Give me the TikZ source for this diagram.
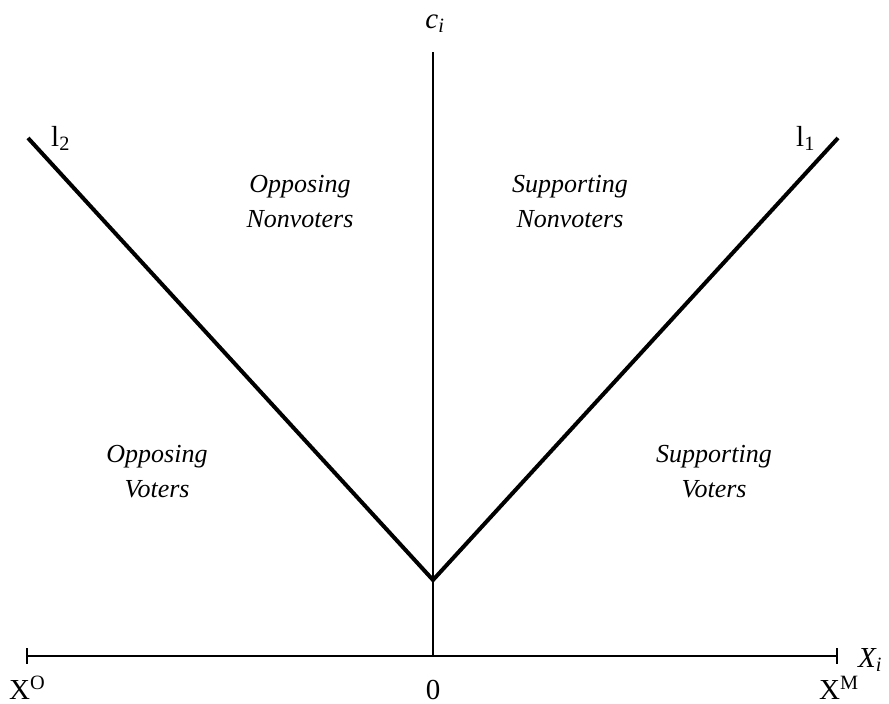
\documentclass[tikz,border=0pt]{standalone}
\usepackage{amsmath}
\usepackage{fontspec}
\setmainfont{Liberation Serif}
\usetikzlibrary{positioning}

\begin{document}
\begin{tikzpicture}[x=1pt, y=-1pt, axis/.style = {line width=1.2pt}, bound/.style = {line width=4pt}, region/.style = {font=\fontsize{26}{35}\selectfont\itshape, align=center, anchor=base, inner sep=0pt}, lbl/.style = {font=\fontsize{29}{32}\selectfont, anchor=base, inner sep=0pt}]
          \useasboundingbox (0,0) rectangle (889,704);
          \coordinate (x_o) at (27,656);
          \coordinate (x_m) at (837,656);
          \coordinate (o) at (433,656);
          \coordinate (top) at (433,52);
          \coordinate (v) at (433,580);
          \coordinate (l_2) at (28,138);
          \coordinate (l_1) at (838,138);

          \draw[axis] (x_o) -- (x_m);
          \draw[axis] ([yshift=8pt]x_o) -- ([yshift=-8pt]x_o);
          \draw[axis] ([yshift=8pt]x_m) -- ([yshift=-8pt]x_m);
          \draw[axis] (o) -- (top);
          \draw[bound] (l_2) -- (v) -- (l_1);

          \node[lbl] (c_i) at (435,28) {$\textit{c}_{\textit{i}}$};
          \node[lbl, anchor=base west] (n_l2) at (51,146) {l$_{\text{2}}$};
          \node[lbl, anchor=base west] (n_l1) at (796,146) {l$_{\text{1}}$};
          \node[lbl, anchor=base west] (n_xi) at (858,667) {$\textit{X}_{\textit{i}}$};
          \node[lbl, anchor=base west] (n_xo) at (9,699) {X$^{\text{O}}$};
          \node[lbl, anchor=base west] (n_xm) at (819,699) {X$^{\text{M}}$};
          \node[lbl] (n_0) at (433,699) {0};

          \node[region] (opp_nv) at (300,227) {Opposing\\Nonvoters};
          \node[region] (sup_nv) at (570,227) {Supporting\\Nonvoters};
          \node[region] (opp_v) at (157,497) {Opposing\\Voters};
          \node[region] (sup_v) at (714,497) {Supporting\\Voters};
        \end{tikzpicture}
\end{document}
